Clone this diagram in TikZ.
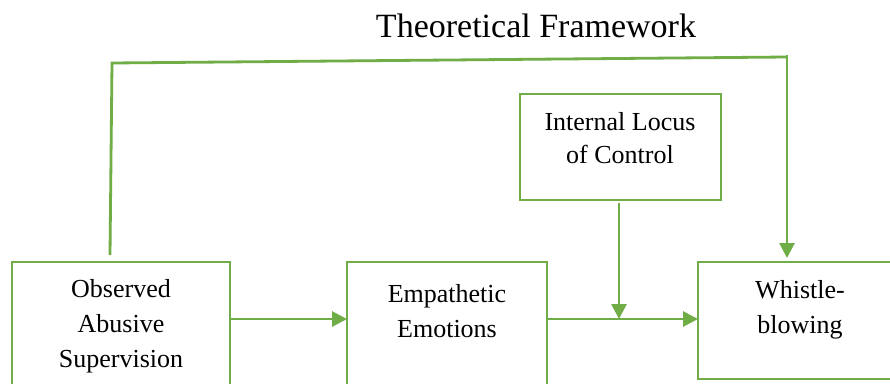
\documentclass[tikz,border=0pt]{standalone}
\usepackage{fontspec}
\setmainfont{Liberation Serif}
\usetikzlibrary{arrows.meta}
\definecolor{grn}{HTML}{70AD47}
\begin{document}
\begin{tikzpicture}[x=1pt,y=-1pt,
  box/.style={draw=grn, line width=2.8pt, inner sep=0pt, outer sep=0pt, anchor=north west},
  line/.style={draw=grn, line width=2.8pt},
  conn/.style={line, -{Triangle[length=15pt,width=15pt]}},
  txt/.style={font=\fontsize{26}{35}\selectfont, anchor=base, inner sep=0pt},
  ttl/.style={font=\fontsize{34}{40}\selectfont, anchor=base, inner sep=0pt}]
\useasboundingbox (0,0) rectangle (890,383);
\fill[white] (0,0) rectangle (890,383);
% title
\node[ttl] (title) at (536,37) {Theoretical Framework};
% boxes
\node[box, minimum width=218pt, minimum height=150pt] (obs) at (12,262) {};
\node[box, minimum width=200pt, minimum height=150pt] (emp) at (347,262) {};
\node[box, minimum width=201pt, minimum height=106pt] (ilc) at (520,94) {};
\node[box, minimum width=210pt, minimum height=117pt] (wb) at (698,262) {};
% texts
\node[txt] (obs1) at (121,297) {Observed};
\node[txt] (obs2) at (121,332) {Abusive};
\node[txt] (obs3) at (121,367) {Supervision};
\node[txt] (emp1) at (447,302) {Empathetic};
\node[txt] (emp2) at (447,337) {Emotions};
\node[txt] (ilc1) at (620,130) {Internal Locus};
\node[txt] (ilc2) at (620,163) {of Control};
\node[txt] (wb1) at (800,298) {Whistle-};
\node[txt] (wb2) at (800,333) {blowing};
% connectors
\coordinate (ya) at (0,319);
\coordinate (c1) at (112,63);
\coordinate (c2) at (787,57);
\coordinate (c2t) at (787,55);
\draw[line] ([xshift=98pt,yshift=7pt]obs.north west) -- (c1) -- (c2);
\draw[conn, shorten >=4pt] (c2t) -- (c2t |- wb.north);
\draw[conn] (obs.east |- ya) -- (emp.west |- ya);
\draw[conn] (emp.east |- ya) -- (wb.west |- ya);
\draw[conn] ([xshift=-1.5pt,yshift=-3pt]ilc.south) -- ([xshift=-1.5pt]ilc.south |- ya);
\end{tikzpicture}
\end{document}
